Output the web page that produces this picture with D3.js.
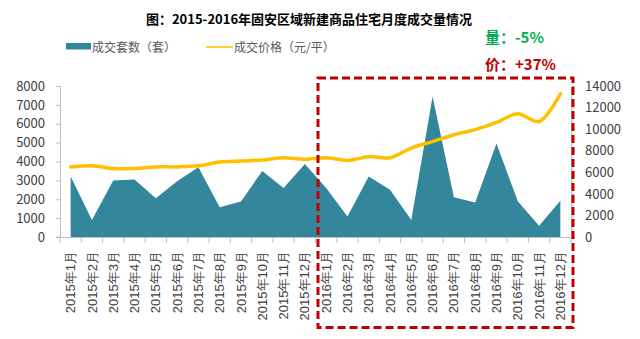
<!DOCTYPE html>
<html><head><meta charset="utf-8">
<script src="https://cdn.jsdelivr.net/npm/d3@7/dist/d3.min.js"></script>
<style>
html,body{margin:0;padding:0;background:#fff;}
svg{display:block;font-family:"Noto Sans CJK SC","Noto Sans",sans-serif;}
</style></head>
<body>
<svg id="chart" width="640" height="339"></svg>
<script>
const categories = ["2015年1月","2015年2月","2015年3月","2015年4月","2015年5月","2015年6月","2015年7月","2015年8月","2015年9月","2015年10月","2015年11月","2015年12月",
"2016年1月","2016年2月","2016年3月","2016年4月","2016年5月","2016年6月","2016年7月","2016年8月","2016年9月","2016年10月","2016年11月","2016年12月"];
const volume = [3200,900,3000,3050,2050,2950,3700,1570,1880,3500,2600,3870,
2600,1080,3200,2500,900,7450,2100,1830,4950,1900,600,1920];
const price = [6500,6600,6350,6350,6500,6500,6600,6950,7050,7150,7350,7200,
7350,7100,7450,7350,8250,8850,9480,9950,10620,11430,10710,13280];
const leftTicks = [0,1000,2000,3000,4000,5000,6000,7000,8000];
const rightTicks = [0,2000,4000,6000,8000,10000,12000,14000];
const seriesNames = ["成交套数（套）","成交价格（元/平）"];
const titleText = "图：2015-2016年固安区域新建商品住宅月度成交量情况";
const noteVol = "量：-5%";
const notePrice = "价：+37%";

(function(){
const svg = d3.select("#chart");
const pL = 60, pR = 571, pT = 86, pB = 237;
const x = d3.scaleBand().domain(categories).range([pL, pR]);
const cx = d => x(d) + x.bandwidth()/2;
const yL = d3.scaleLinear().domain([0,8000]).range([pB, pT]);
const yR = d3.scaleLinear().domain([0,14000]).range([pB, pT]);

const axisColor = "#bfbfbf", textColor = "#404040";

// area
const area = d3.area().x((d,i)=>cx(categories[i])).y0(yL(0)).y1(d=>yL(d));
svg.append("path").datum(volume).attr("d", area).attr("fill", "#34869c");

// line
const line = d3.line().x((d,i)=>cx(categories[i])).y(d=>yR(d)).curve(d3.curveCatmullRom.alpha(0.5));
svg.append("path").datum(price).attr("d", line).attr("fill","none")
  .attr("stroke","#ffc000").attr("stroke-width",3.5).attr("stroke-linecap","round");

// axes
function styleAxis(g){
  g.select(".domain").attr("stroke", axisColor);
  g.selectAll(".tick line").attr("stroke", axisColor);
  g.selectAll(".tick text").attr("fill", textColor).style("font-size","13px")
   .style("font-family","'Noto Sans CJK SC','Noto Sans',sans-serif");
}
const gl = svg.append("g").attr("transform",`translate(${pL},0)`)
  .call(d3.axisLeft(yL).tickValues(leftTicks).tickSize(4).tickSizeOuter(4).tickPadding(11).tickFormat(d3.format("d")));
styleAxis(gl);

const gr = svg.append("g").attr("transform",`translate(${pR},0)`)
  .call(d3.axisRight(yR).tickValues(rightTicks).tickSize(4).tickSizeOuter(4).tickPadding(10).tickFormat(d3.format("d")));
styleAxis(gr);

const gx = svg.append("g").attr("transform",`translate(0,${pB})`)
  .call(d3.axisBottom(x).tickSize(0).tickSizeOuter(0));
gx.select(".domain").attr("stroke", axisColor);
gx.selectAll(".tick text").attr("fill", textColor).style("font-size","13px")
  .attr("transform","rotate(-90)").attr("text-anchor","end")
  .attr("x",-14).attr("y",0).attr("dy","0.35em");
// category boundary ticks
const bounds = categories.map(c=>x(c)).concat([pR]);
svg.append("g").selectAll("line").data(bounds).join("line")
  .attr("x1",d=>d).attr("x2",d=>d).attr("y1",pB).attr("y2",pB+6)
  .attr("stroke",axisColor);
svg.append("line").attr("x1",pL-4).attr("x2",pL).attr("y1",pB).attr("y2",pB).attr("stroke",axisColor);

// title
svg.append("text").attr("x",309).attr("y",23.5).attr("text-anchor","middle")
  .style("font-size","13px").style("font-weight","bold").attr("fill","#000").text(titleText);

// legend
svg.append("rect").attr("x",66).attr("y",43).attr("width",25).attr("height",6.5).attr("fill","#34869c");
svg.append("text").attr("x",92).attr("y",52).style("font-size","12px").attr("fill","#595959").text(seriesNames[0]);
svg.append("line").attr("x1",206).attr("x2",233).attr("y1",47).attr("y2",47).attr("stroke","#ffc000").attr("stroke-width",1.5);
svg.append("text").attr("x",234).attr("y",52).style("font-size","12px").attr("fill","#595959").text(seriesNames[1]);

// notes
svg.append("text").attr("x",485).attr("y",43).style("font-size","15px").style("font-weight","bold")
  .attr("fill","#00b050").text(noteVol);
svg.append("text").attr("x",485).attr("y",70).style("font-size","15px").style("font-weight","bold")
  .attr("fill","#c00000").text(notePrice);

// dashed highlight box
svg.append("rect").attr("x",318).attr("y",78).attr("width",255).attr("height",249.5)
  .attr("fill","none").attr("stroke","#c00000").attr("stroke-width",3)
  .attr("stroke-dasharray","8,4");
})();
</script>
</body></html>
